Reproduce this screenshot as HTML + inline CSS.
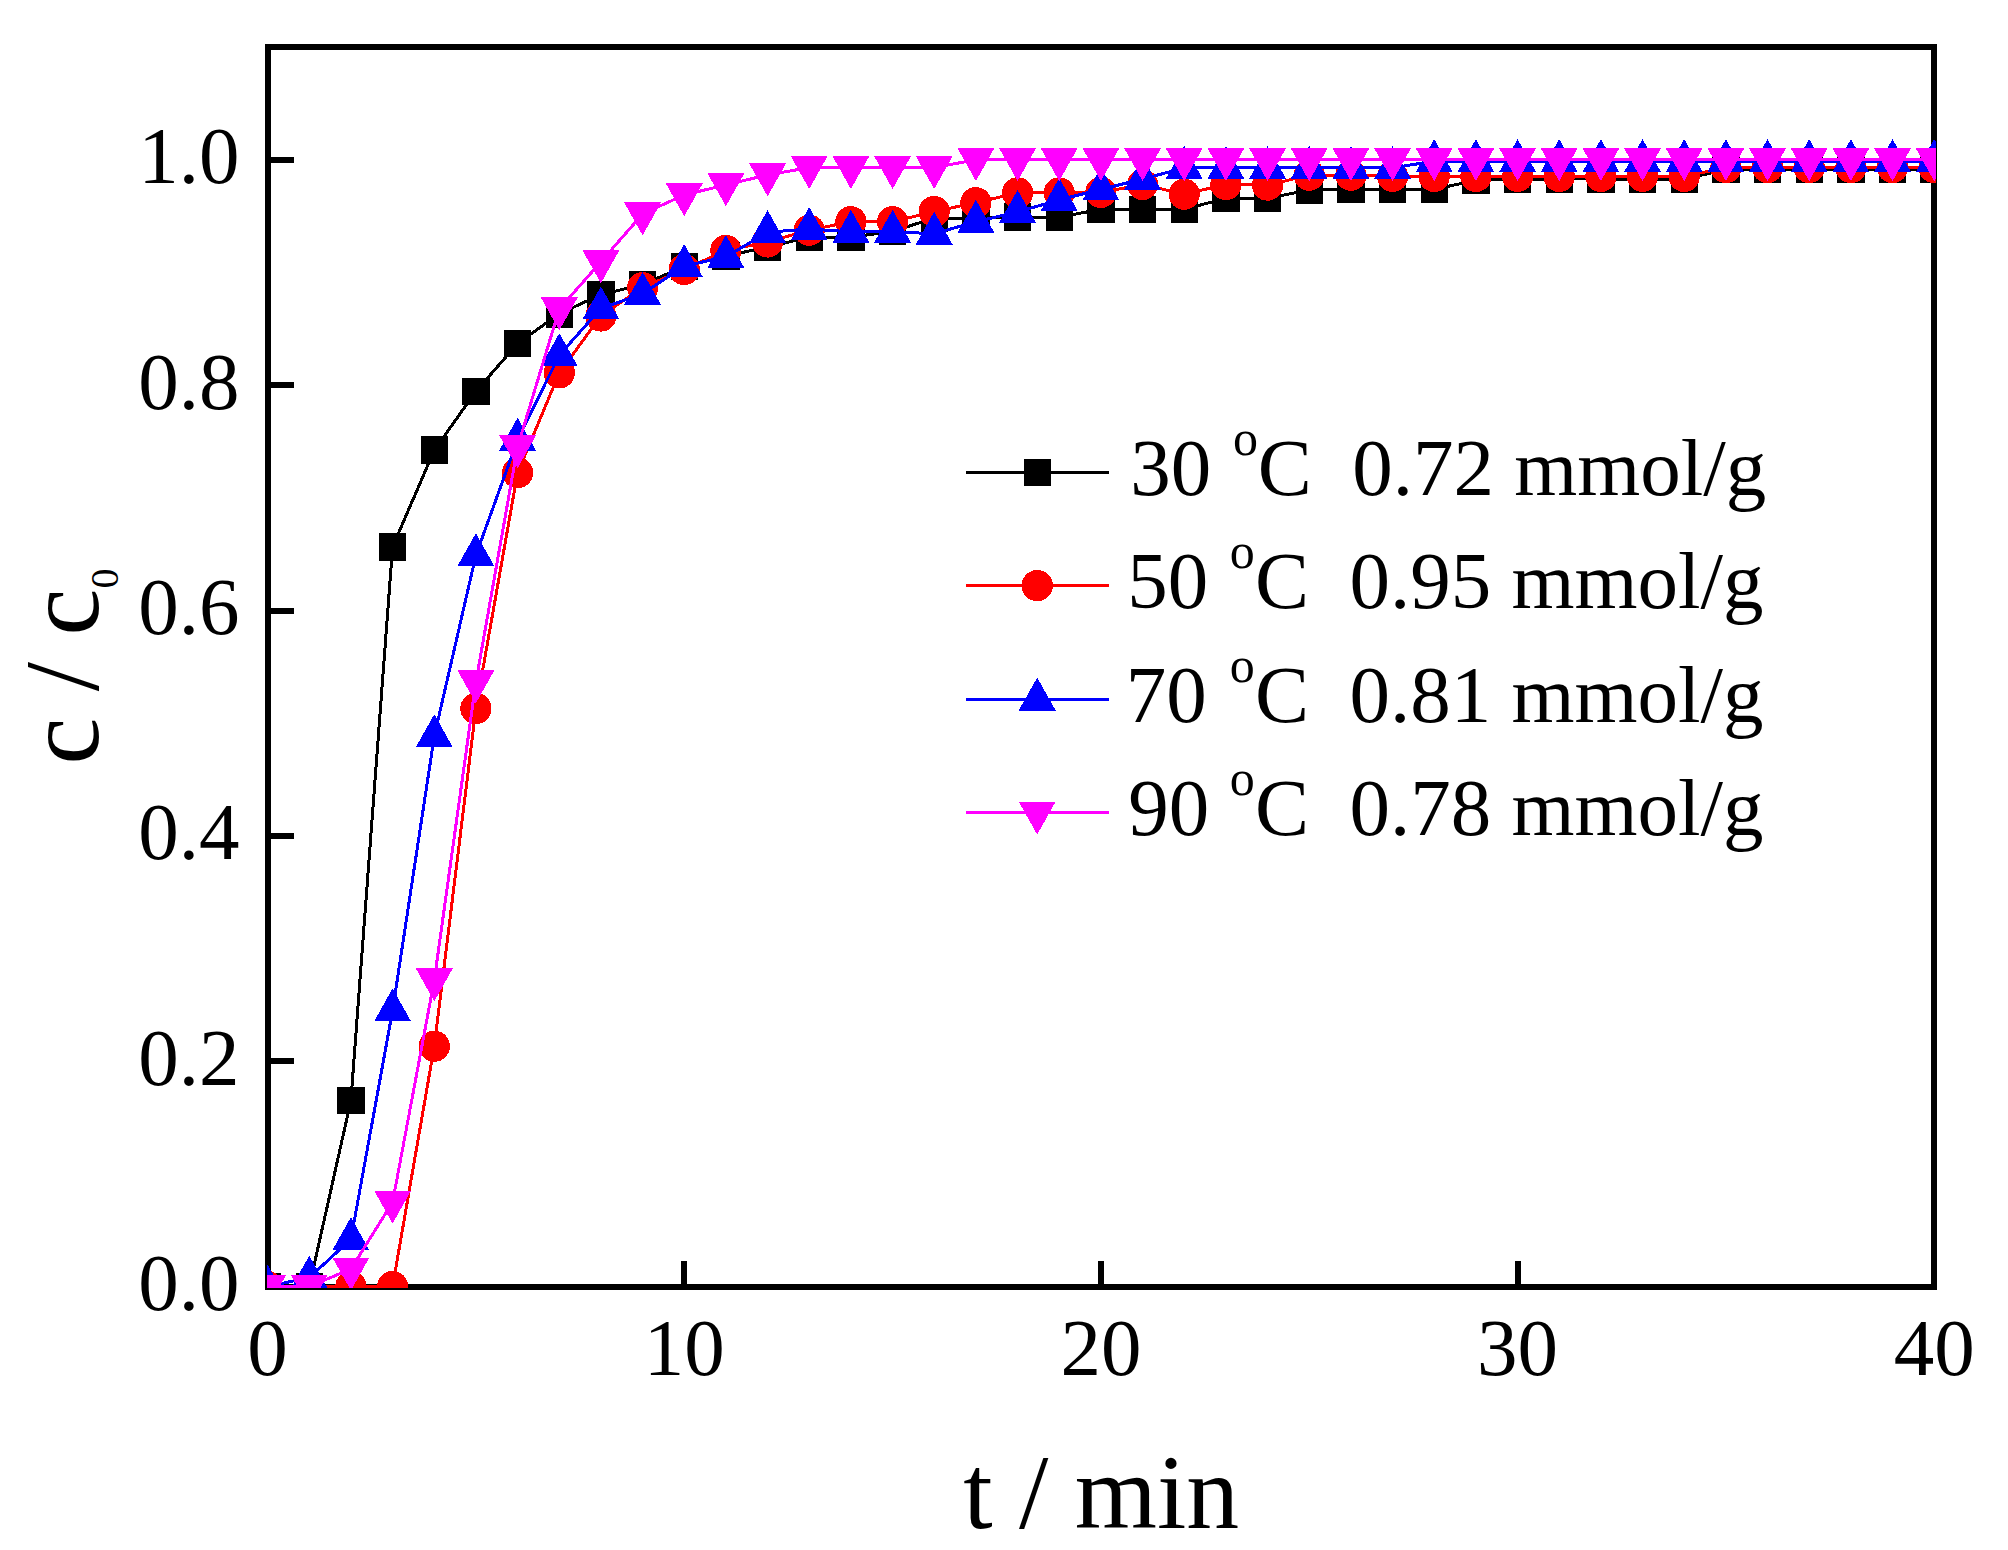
<!DOCTYPE html>
<html><head><meta charset="utf-8"><title>Breakthrough curves</title>
<style>
html,body{margin:0;padding:0;background:#fff;}
body{width:2008px;height:1550px;overflow:hidden;}
svg{display:block;}
text{font-family:"Liberation Serif","Times New Roman",Times,serif;fill:#000;}
.tk{font-size:81px;}
.tt{font-size:105.7px;}
</style></head><body>
<svg width="2008" height="1550" viewBox="0 0 2008 1550" shape-rendering="crispEdges">
<rect width="2008" height="1550" fill="#fff"/>
<rect x="268.0" y="47.0" width="1666.0" height="1240.0" fill="none" stroke="#000" stroke-width="6.0"/>
<path d="M268.0 1061.0H294M268.0 836.0H294M268.0 611.0H294M268.0 385.0H294M268.0 160.0H294M684.0 1287.0V1260.7M1101.0 1287.0V1260.7M1518.0 1287.0V1260.7" stroke="#000" stroke-width="6.0" fill="none"/>
<text class="tk" text-anchor="end" x="239.5" y="1310.0">0.0</text>
<text class="tk" text-anchor="end" x="239.5" y="1084.6">0.2</text>
<text class="tk" text-anchor="end" x="239.5" y="859.3">0.4</text>
<text class="tk" text-anchor="end" x="239.5" y="633.9">0.6</text>
<text class="tk" text-anchor="end" x="239.5" y="408.6">0.8</text>
<text class="tk" text-anchor="end" x="239.5" y="183.2">1.0</text>
<text class="tk" text-anchor="middle" x="267.6" y="1375.2">0</text>
<text class="tk" text-anchor="middle" x="684.2" y="1375.2">10</text>
<text class="tk" text-anchor="middle" x="1100.9" y="1375.2">20</text>
<text class="tk" text-anchor="middle" x="1517.6" y="1375.2">30</text>
<text class="tk" text-anchor="middle" x="1934.2" y="1375.2">40</text>
<text class="tt" text-anchor="middle" x="1101.2" y="1528.3">t / min</text>
<text class="tt" text-anchor="middle" transform="translate(97.6 666.5) rotate(-90)"><tspan>c / c</tspan><tspan font-size="40" dy="20">0</tspan></text>
<clipPath id="cp"><rect x="267" y="45" width="1669" height="1243"/></clipPath>
<g clip-path="url(#cp)">
<polyline fill="none" stroke="#000" stroke-width="3.0" stroke-linejoin="round" points="267.6,1286.5 309.3,1286.5 350.9,1100.6 392.6,546.8 434.3,450.2 475.9,391.3 517.6,343.6 559.3,313.7 600.9,294.6 642.6,284.5 684.2,266.5 725.9,256.0 767.6,247.1 809.2,237.1 850.9,237.1 892.6,231.5 934.2,218.0 975.9,218.0 1017.6,217.2 1059.2,217.2 1100.9,209.3 1142.6,209.3 1184.2,209.3 1225.9,198.3 1267.6,198.3 1309.2,190.0 1350.9,189.3 1392.6,189.3 1434.2,189.3 1475.9,180.3 1517.6,179.4 1559.2,179.0 1600.9,179.0 1642.5,179.0 1684.2,179.0 1725.9,169.6 1767.5,169.6 1809.2,169.6 1850.9,169.6 1892.5,169.6 1934.2,169.6"/>
<path fill="#000" d="M253.9 1272.8h27.5v27.5h-27.5zM295.5 1272.8h27.5v27.5h-27.5zM337.2 1086.8h27.5v27.5h-27.5zM378.8 533.0h27.5v27.5h-27.5zM420.5 436.4h27.5v27.5h-27.5zM462.2 377.5h27.5v27.5h-27.5zM503.8 329.8h27.5v27.5h-27.5zM545.5 300.0h27.5v27.5h-27.5zM587.2 280.8h27.5v27.5h-27.5zM628.8 270.8h27.5v27.5h-27.5zM670.5 252.8h27.5v27.5h-27.5zM712.2 242.3h27.5v27.5h-27.5zM753.8 233.4h27.5v27.5h-27.5zM795.5 223.4h27.5v27.5h-27.5zM837.2 223.4h27.5v27.5h-27.5zM878.8 217.7h27.5v27.5h-27.5zM920.5 204.2h27.5v27.5h-27.5zM962.2 204.2h27.5v27.5h-27.5zM1003.8 203.4h27.5v27.5h-27.5zM1045.5 203.4h27.5v27.5h-27.5zM1087.2 195.5h27.5v27.5h-27.5zM1128.8 195.5h27.5v27.5h-27.5zM1170.5 195.5h27.5v27.5h-27.5zM1212.1 184.6h27.5v27.5h-27.5zM1253.8 184.6h27.5v27.5h-27.5zM1295.5 176.3h27.5v27.5h-27.5zM1337.1 175.6h27.5v27.5h-27.5zM1378.8 175.6h27.5v27.5h-27.5zM1420.5 175.6h27.5v27.5h-27.5zM1462.1 166.6h27.5v27.5h-27.5zM1503.8 165.7h27.5v27.5h-27.5zM1545.5 165.2h27.5v27.5h-27.5zM1587.1 165.2h27.5v27.5h-27.5zM1628.8 165.2h27.5v27.5h-27.5zM1670.5 165.2h27.5v27.5h-27.5zM1712.1 155.9h27.5v27.5h-27.5zM1753.8 155.9h27.5v27.5h-27.5zM1795.5 155.9h27.5v27.5h-27.5zM1837.1 155.9h27.5v27.5h-27.5zM1878.8 155.9h27.5v27.5h-27.5zM1920.4 155.9h27.5v27.5h-27.5z"/>
<polyline fill="none" stroke="#f00" stroke-width="3.0" stroke-linejoin="round" points="267.6,1286.5 309.3,1286.5 350.9,1286.5 392.6,1286.5 434.3,1046.2 475.9,708.5 517.6,472.7 559.3,372.9 600.9,316.0 642.6,287.6 684.2,269.5 725.9,250.4 767.6,242.0 809.2,230.2 850.9,221.7 892.6,221.7 934.2,211.5 975.9,202.7 1017.6,192.9 1059.2,192.9 1100.9,192.4 1142.6,184.5 1184.2,194.2 1225.9,184.5 1267.6,185.1 1309.2,175.2 1350.9,175.2 1392.6,176.4 1434.2,176.4 1475.9,176.4 1517.6,176.4 1559.2,176.4 1600.9,176.4 1642.5,176.4 1684.2,176.4 1725.9,167.5 1767.5,167.5 1809.2,167.5 1850.9,167.5 1892.5,167.5 1934.2,167.5"/>
<g fill="#f00"><circle cx="267.6" cy="1286.5" r="15.6"/><circle cx="309.3" cy="1286.5" r="15.6"/><circle cx="350.9" cy="1286.5" r="15.6"/><circle cx="392.6" cy="1286.5" r="15.6"/><circle cx="434.3" cy="1046.2" r="15.6"/><circle cx="475.9" cy="708.5" r="15.6"/><circle cx="517.6" cy="472.7" r="15.6"/><circle cx="559.3" cy="372.9" r="15.6"/><circle cx="600.9" cy="316.0" r="15.6"/><circle cx="642.6" cy="287.6" r="15.6"/><circle cx="684.2" cy="269.5" r="15.6"/><circle cx="725.9" cy="250.4" r="15.6"/><circle cx="767.6" cy="242.0" r="15.6"/><circle cx="809.2" cy="230.2" r="15.6"/><circle cx="850.9" cy="221.7" r="15.6"/><circle cx="892.6" cy="221.7" r="15.6"/><circle cx="934.2" cy="211.5" r="15.6"/><circle cx="975.9" cy="202.7" r="15.6"/><circle cx="1017.6" cy="192.9" r="15.6"/><circle cx="1059.2" cy="192.9" r="15.6"/><circle cx="1100.9" cy="192.4" r="15.6"/><circle cx="1142.6" cy="184.5" r="15.6"/><circle cx="1184.2" cy="194.2" r="15.6"/><circle cx="1225.9" cy="184.5" r="15.6"/><circle cx="1267.6" cy="185.1" r="15.6"/><circle cx="1309.2" cy="175.2" r="15.6"/><circle cx="1350.9" cy="175.2" r="15.6"/><circle cx="1392.6" cy="176.4" r="15.6"/><circle cx="1434.2" cy="176.4" r="15.6"/><circle cx="1475.9" cy="176.4" r="15.6"/><circle cx="1517.6" cy="176.4" r="15.6"/><circle cx="1559.2" cy="176.4" r="15.6"/><circle cx="1600.9" cy="176.4" r="15.6"/><circle cx="1642.5" cy="176.4" r="15.6"/><circle cx="1684.2" cy="176.4" r="15.6"/><circle cx="1725.9" cy="167.5" r="15.6"/><circle cx="1767.5" cy="167.5" r="15.6"/><circle cx="1809.2" cy="167.5" r="15.6"/><circle cx="1850.9" cy="167.5" r="15.6"/><circle cx="1892.5" cy="167.5" r="15.6"/><circle cx="1934.2" cy="167.5" r="15.6"/></g>
<polyline fill="none" stroke="#00f" stroke-width="3.0" stroke-linejoin="round" points="267.6,1286.5 309.3,1277.6 350.9,1239.2 392.6,1010.4 434.3,736.2 475.9,555.2 517.6,439.7 559.3,355.2 600.9,308.4 642.6,293.9 684.2,266.0 725.9,256.9 767.6,232.2 809.2,229.0 850.9,231.8 892.6,231.8 934.2,233.7 975.9,221.8 1017.6,211.9 1059.2,199.9 1100.9,189.4 1142.6,179.0 1184.2,167.9 1225.9,167.9 1267.6,167.9 1309.2,167.9 1350.9,167.9 1392.6,167.9 1434.2,161.1 1475.9,161.1 1517.6,161.1 1559.2,161.1 1600.9,161.1 1642.5,161.1 1684.2,161.1 1725.9,161.1 1767.5,161.1 1809.2,161.1 1850.9,161.1 1892.5,161.1 1934.2,161.1"/>
<path fill="#00f" d="M249.1 1297.5L286.1 1297.5L267.6 1264.5zM290.8 1288.6L327.8 1288.6L309.3 1255.6zM332.4 1250.2L369.4 1250.2L350.9 1217.2zM374.1 1021.4L411.1 1021.4L392.6 988.4zM415.8 747.2L452.8 747.2L434.3 714.2zM457.4 566.2L494.4 566.2L475.9 533.2zM499.1 450.7L536.1 450.7L517.6 417.7zM540.8 366.2L577.8 366.2L559.3 333.2zM582.4 319.4L619.4 319.4L600.9 286.4zM624.1 304.9L661.1 304.9L642.6 271.9zM665.8 277.0L702.8 277.0L684.2 244.0zM707.4 267.9L744.4 267.9L725.9 234.9zM749.1 243.2L786.1 243.2L767.6 210.2zM790.7 240.0L827.7 240.0L809.2 207.0zM832.4 242.8L869.4 242.8L850.9 209.8zM874.1 242.8L911.1 242.8L892.6 209.8zM915.7 244.7L952.7 244.7L934.2 211.7zM957.4 232.8L994.4 232.8L975.9 199.8zM999.1 222.9L1036.1 222.9L1017.6 189.9zM1040.7 210.9L1077.7 210.9L1059.2 177.9zM1082.4 200.4L1119.4 200.4L1100.9 167.4zM1124.1 190.0L1161.1 190.0L1142.6 157.0zM1165.7 178.9L1202.7 178.9L1184.2 145.9zM1207.4 178.9L1244.4 178.9L1225.9 145.9zM1249.1 178.9L1286.1 178.9L1267.6 145.9zM1290.7 178.9L1327.7 178.9L1309.2 145.9zM1332.4 178.9L1369.4 178.9L1350.9 145.9zM1374.1 178.9L1411.1 178.9L1392.6 145.9zM1415.7 172.1L1452.7 172.1L1434.2 139.1zM1457.4 172.1L1494.4 172.1L1475.9 139.1zM1499.1 172.1L1536.1 172.1L1517.6 139.1zM1540.7 172.1L1577.7 172.1L1559.2 139.1zM1582.4 172.1L1619.4 172.1L1600.9 139.1zM1624.0 172.1L1661.0 172.1L1642.5 139.1zM1665.7 172.1L1702.7 172.1L1684.2 139.1zM1707.4 172.1L1744.4 172.1L1725.9 139.1zM1749.0 172.1L1786.0 172.1L1767.5 139.1zM1790.7 172.1L1827.7 172.1L1809.2 139.1zM1832.4 172.1L1869.4 172.1L1850.9 139.1zM1874.0 172.1L1911.0 172.1L1892.5 139.1zM1915.7 172.1L1952.7 172.1L1934.2 139.1z"/>
<polyline fill="none" stroke="#f0f" stroke-width="3.0" stroke-linejoin="round" points="267.6,1286.5 309.3,1286.5 350.9,1269.1 392.6,1202.2 434.3,980.0 475.9,681.9 517.6,446.8 559.3,309.0 600.9,261.8 642.6,214.0 684.2,194.9 725.9,184.9 767.6,174.9 809.2,167.6 850.9,167.6 892.6,167.6 934.2,167.6 975.9,159.7 1017.6,159.7 1059.2,159.7 1100.9,159.7 1142.6,159.7 1184.2,159.7 1225.9,159.7 1267.6,159.7 1309.2,159.7 1350.9,159.7 1392.6,159.7 1434.2,159.7 1475.9,159.7 1517.6,159.7 1559.2,159.7 1600.9,159.7 1642.5,159.7 1684.2,159.7 1725.9,159.7 1767.5,159.7 1809.2,159.7 1850.9,159.7 1892.5,159.7 1934.2,159.7"/>
<path fill="#f0f" d="M249.1 1274.9L286.1 1274.9L267.6 1307.9zM290.8 1274.9L327.8 1274.9L309.3 1307.9zM332.4 1257.5L369.4 1257.5L350.9 1290.5zM374.1 1190.6L411.1 1190.6L392.6 1223.6zM415.8 968.4L452.8 968.4L434.3 1001.4zM457.4 670.3L494.4 670.3L475.9 703.3zM499.1 435.2L536.1 435.2L517.6 468.2zM540.8 297.4L577.8 297.4L559.3 330.4zM582.4 250.2L619.4 250.2L600.9 283.2zM624.1 202.4L661.1 202.4L642.6 235.4zM665.8 183.3L702.8 183.3L684.2 216.3zM707.4 173.3L744.4 173.3L725.9 206.3zM749.1 163.3L786.1 163.3L767.6 196.3zM790.7 156.0L827.7 156.0L809.2 189.0zM832.4 156.0L869.4 156.0L850.9 189.0zM874.1 156.0L911.1 156.0L892.6 189.0zM915.7 156.0L952.7 156.0L934.2 189.0zM957.4 148.1L994.4 148.1L975.9 181.1zM999.1 148.1L1036.1 148.1L1017.6 181.1zM1040.7 148.1L1077.7 148.1L1059.2 181.1zM1082.4 148.1L1119.4 148.1L1100.9 181.1zM1124.1 148.1L1161.1 148.1L1142.6 181.1zM1165.7 148.1L1202.7 148.1L1184.2 181.1zM1207.4 148.1L1244.4 148.1L1225.9 181.1zM1249.1 148.1L1286.1 148.1L1267.6 181.1zM1290.7 148.1L1327.7 148.1L1309.2 181.1zM1332.4 148.1L1369.4 148.1L1350.9 181.1zM1374.1 148.1L1411.1 148.1L1392.6 181.1zM1415.7 148.1L1452.7 148.1L1434.2 181.1zM1457.4 148.1L1494.4 148.1L1475.9 181.1zM1499.1 148.1L1536.1 148.1L1517.6 181.1zM1540.7 148.1L1577.7 148.1L1559.2 181.1zM1582.4 148.1L1619.4 148.1L1600.9 181.1zM1624.0 148.1L1661.0 148.1L1642.5 181.1zM1665.7 148.1L1702.7 148.1L1684.2 181.1zM1707.4 148.1L1744.4 148.1L1725.9 181.1zM1749.0 148.1L1786.0 148.1L1767.5 181.1zM1790.7 148.1L1827.7 148.1L1809.2 181.1zM1832.4 148.1L1869.4 148.1L1850.9 181.1zM1874.0 148.1L1911.0 148.1L1892.5 181.1zM1915.7 148.1L1952.7 148.1L1934.2 181.1z"/>
</g>
<path d="M966 472.5H1109" stroke="#000" stroke-width="3.0" fill="none"/><path d="M1023.5 458.8h27.5v27.5h-27.5z" fill="#000"/><text class="tk" y="494.5" xml:space="preserve"><tspan x="1130.3">30</tspan><tspan x="1233.0" font-size="50" dy="-40">o</tspan><tspan x="1257.75" dy="40">C  0.72 mmol/g</tspan></text>
<path d="M966 585.6H1109" stroke="#f00" stroke-width="3.0" fill="none"/><circle cx="1037.2" cy="585.6" r="15.6" fill="#f00"/><text class="tk" y="607.6" xml:space="preserve"><tspan x="1127.3">50</tspan><tspan x="1229.8" font-size="50" dy="-40">o</tspan><tspan x="1255.05" dy="40">C  0.95 mmol/g</tspan></text>
<path d="M966 699.5H1109" stroke="#00f" stroke-width="3.0" fill="none"/><path d="M1018.7 710.5L1055.7 710.5L1037.2 677.5z" fill="#00f"/><text class="tk" y="721.5" xml:space="preserve"><tspan x="1125.8">70</tspan><tspan x="1229.8" font-size="50" dy="-40">o</tspan><tspan x="1255.05" dy="40">C  0.81 mmol/g</tspan></text>
<path d="M966 812.6H1109" stroke="#f0f" stroke-width="3.0" fill="none"/><path d="M1018.7 801.6L1055.7 801.6L1037.2 834.6z" fill="#f0f"/><text class="tk" y="834.6" xml:space="preserve"><tspan x="1128.3">90</tspan><tspan x="1229.8" font-size="50" dy="-40">o</tspan><tspan x="1255.05" dy="40">C  0.78 mmol/g</tspan></text>
</svg></body></html>
